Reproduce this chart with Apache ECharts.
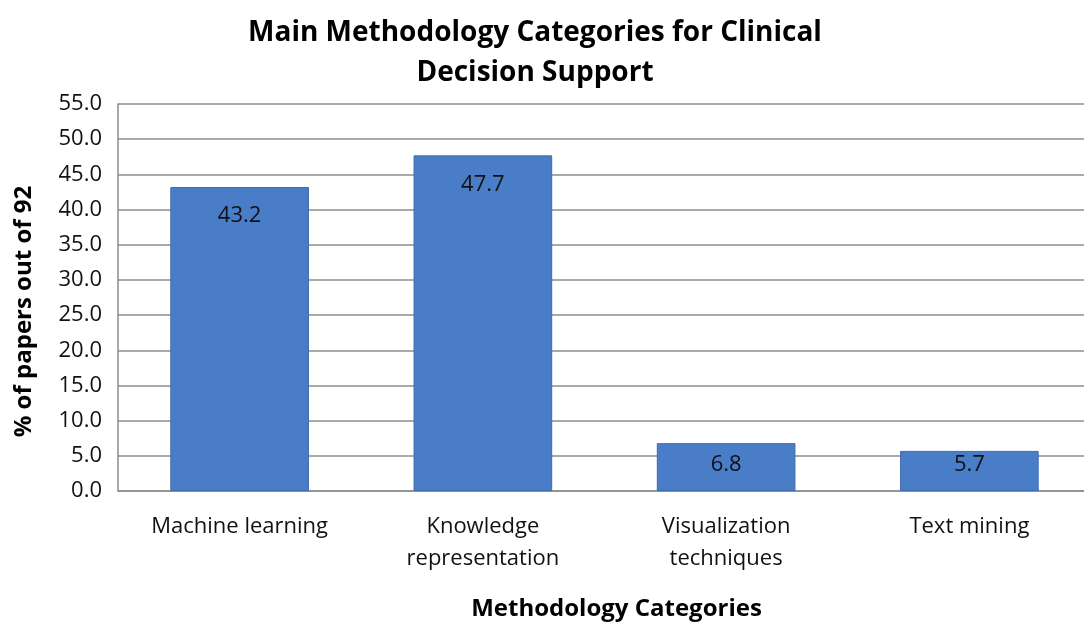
<!DOCTYPE html>
<html>
<head>
<meta charset="utf-8">
<script src="https://cdn.jsdelivr.net/npm/echarts@6/dist/echarts.min.js"></script>
<style>
  html, body { margin: 0; padding: 0; background: #fff; }
  #chart { width: 1084px; height: 624px; }
</style>
</head>
<body>
<div id="chart"></div>
<script>
var categories = ['Machine learning', 'Knowledge\nrepresentation', 'Visualization\ntechniques', 'Text mining'];
var values = [43.2, 47.7, 6.8, 5.7];

var myChart = echarts.init(document.getElementById('chart'));
var font = 'Open Sans';

// labels sit lower inside tall bars, closer to the top on short ones
var barData = values.map(function (v) {
  return { value: v, label: { distance: Math.max(2, Math.min(18, v * 7.04 - 37)) } };
});

var option = {
  animation: false,
  title: {
    text: 'Main Methodology Categories for Clinical\nDecision Support',
    left: 530,
    textAlign: 'center',
    top: 8,
    textStyle: { fontFamily: font, fontSize: 28, fontWeight: 'bold', color: '#000', lineHeight: 40 }
  },
  grid: { left: 118, top: 104, bottom: 133, width: 973, outerBoundsMode: 'none' },
  xAxis: {
    type: 'category',
    data: categories,
    name: 'Methodology Categories',
    nameLocation: 'middle',
    nameGap: 106,
    nameTextStyle: { fontFamily: font, fontSize: 24, fontWeight: 'bold', color: '#000', padding: [0, 0, 0, 24] },
    axisLine: { lineStyle: { color: '#8c8c8c', width: 1.5 } },
    axisTick: { show: false },
    axisLabel: { fontFamily: font, fontSize: 22, color: '#111', margin: 20, lineHeight: 32, interval: 0 }
  },
  yAxis: {
    type: 'value',
    min: 0,
    max: 55,
    interval: 5,
    name: '% of papers out of 92',
    nameLocation: 'middle',
    nameGap: 82,
    nameTextStyle: { fontFamily: font, fontSize: 24, fontWeight: 'bold', color: '#000', padding: [0, 28, 0, 0] },
    axisLine: { show: true, lineStyle: { color: '#8c8c8c', width: 1.5 } },
    axisTick: { show: false },
    splitLine: { lineStyle: { color: '#8c8c8c', width: 1.5 } },
    axisLabel: {
      fontFamily: font, fontSize: 22, color: '#111', margin: 16,
      formatter: function (v) { return v.toFixed(1); }
    }
  },
  series: [{
    type: 'bar',
    data: barData,
    barWidth: '57%',
    itemStyle: { color: '#4a7dc8', borderColor: '#3f6cae', borderWidth: 1 },
    label: {
      show: true,
      position: 'insideTop',
      fontFamily: font,
      fontSize: 22,
      color: '#111',
      formatter: function (p) { return p.value.toFixed(1); }
    }
  }]
};

myChart.setOption(option);
</script>
</body>
</html>
